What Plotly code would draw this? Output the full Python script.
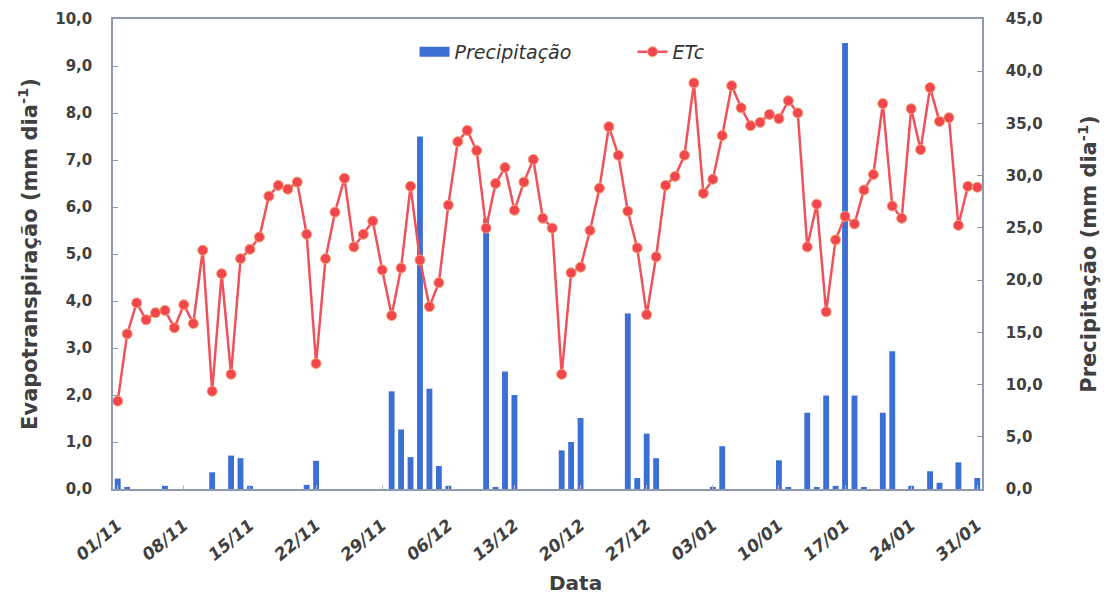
import pandas as pd
import plotly.graph_objects as go

# ---- data ----
dates = pd.date_range("2012-11-01", "2013-01-31", freq="D")

etc = [1.87, 3.30, 3.96, 3.60, 3.75, 3.80, 3.43, 3.92, 3.52, 5.08,
       2.08, 4.58, 2.44, 4.90, 5.10, 5.36, 6.23, 6.46, 6.38, 6.53,
       5.42, 2.67, 4.90, 5.89, 6.61, 5.15, 5.42, 5.70, 4.66, 3.69,
       4.70, 6.44, 4.87, 3.88, 4.39, 6.04, 7.39, 7.63, 7.20, 5.55,
       6.50, 6.84, 5.93, 6.53, 7.01, 5.76, 5.55, 2.44, 4.60, 4.72,
       5.50, 6.40, 7.71, 7.10, 5.91, 5.13, 3.71, 4.94, 6.46, 6.65,
       7.10, 8.64, 6.29, 6.59, 7.52, 8.58, 8.11, 7.73, 7.80, 7.97,
       7.88, 8.26, 8.00, 5.15, 6.06, 3.77, 5.30, 5.80, 5.64, 6.36,
       6.69, 8.20, 6.02, 5.76, 8.09, 7.22, 8.54, 7.82, 7.90, 5.61,
       6.44, 6.42]

precip = [1.0, 0.2, 0.0, 0.0, 0.0, 0.3, 0.0, 0.0, 0.0, 0.0,
          1.6, 0.0, 3.2, 2.95, 0.3, 0.0, 0.0, 0.0, 0.0, 0.0,
          0.4, 2.7, 0.0, 0.0, 0.0, 0.0, 0.0, 0.0, 0.0, 9.35,
          5.7, 3.05, 33.75, 9.6, 2.2, 0.3, 0.0, 0.0, 0.0, 25.9,
          0.2, 11.25, 9.0, 0.0, 0.0, 0.0, 0.0, 3.7, 4.5, 6.8,
          0.0, 0.0, 0.0, 0.0, 16.8, 1.05, 5.3, 2.95, 0.0, 0.0,
          0.0, 0.0, 0.0, 0.2, 4.1, 0.0, 0.0, 0.0, 0.0, 0.0,
          2.75, 0.1, 0.0, 7.3, 0.1, 8.95, 0.3, 42.7, 8.95, 0.1,
          0.0, 7.3, 13.2, 0.0, 0.3, 0.0, 1.7, 0.6, 0.0, 2.55,
          0.0, 1.05]

tick_dates = dates[::7]
tick_text = [d.strftime("%d/%m") for d in tick_dates]
left_ticks = list(range(0, 11))
right_ticks = list(range(0, 46, 5))

FONT = "DejaVu Sans"
TXT = "#404040"
AX = "#9099B0"
BLUE = "#3B6FD4"

fig = go.Figure()
fig.add_trace(go.Bar(
    x=dates, y=precip, name="Precipitação", yaxis="y", showlegend=False,
    marker=dict(color=BLUE, line=dict(width=0)),
))
# legend-only entry for the bars (wide rectangle symbol as in the original)
fig.add_trace(go.Scatter(
    x=[None], y=[None], name="Precipitação", yaxis="y", mode="lines",
    line=dict(color=BLUE, width=10),
))
fig.add_trace(go.Scatter(
    x=dates, y=etc, name="ETc", yaxis="y2", mode="lines+markers",
    line=dict(color="#F0525C", width=2.5),
    marker=dict(color="#F2464F", size=10, line=dict(color="#F8A070", width=1)),
))

fig.update_layout(
    width=1111, height=608,
    margin=dict(l=105, r=137, t=11, b=127, autoexpand=False),
    paper_bgcolor="white", plot_bgcolor="white",
    separators=",.",
    bargap=0.38,
    font=dict(family=FONT, color=TXT),
    showlegend=True,
    legend=dict(orientation="h", x=0.347, xanchor="left", y=0.93, yanchor="middle",
                font=dict(family=FONT, size=19, color="#333333", style="italic"),
                traceorder="normal", bgcolor="rgba(0,0,0,0)",
                entrywidth=173, entrywidthmode="pixels"),
    xaxis=dict(
        automargin=False,
        range=[dates[0] - pd.Timedelta(hours=12), dates[-1] + pd.Timedelta(hours=12)],
        tickvals=tick_dates, ticktext=tick_text, tickangle=-40,
        tickfont=dict(family=FONT, size=17, color=TXT, weight="bold", style="italic"),
        showgrid=False, showline=True, linecolor=AX, linewidth=1.5, mirror=True,
        ticks="inside", ticklen=4, tickcolor="#BBBBBB", ticklabelstandoff=18,
    ),
    yaxis=dict(
        automargin=False,
        side="right", range=[0, 45], tickvals=right_ticks, tickformat=".1f",
        tickfont=dict(family=FONT, size=15, color=TXT, weight="bold"),
        showgrid=False, showline=True, linecolor=AX, linewidth=1.5,
        ticks="inside", ticklen=5, tickcolor=AX, ticklabelstandoff=19, zeroline=False,
        title=dict(text="Precipitação (mm dia<sup>-1</sup>)",
                   font=dict(family=FONT, size=21, color=TXT, weight="bold"), standoff=40),
    ),
    yaxis2=dict(
        automargin=False,
        side="left", overlaying="y", range=[0, 10], tickvals=left_ticks, tickformat=".1f",
        tickfont=dict(family=FONT, size=15, color=TXT, weight="bold"),
        showgrid=False, showline=True, linecolor=AX, linewidth=1.5,
        ticks="inside", ticklen=5, tickcolor=AX, ticklabelstandoff=16, zeroline=False,
        title=dict(text="Evapotranspiração (mm dia<sup>-1</sup>)",
                   font=dict(family=FONT, size=21, color=TXT, weight="bold"), standoff=12),
    ),
    annotations=[dict(text="Data", xref="paper", yref="paper", x=0.532, y=-0.2,
                      xanchor="center", yanchor="middle", showarrow=False,
                      font=dict(family=FONT, size=20, color=TXT, weight="bold"))],
)

fig.write_html("out.html")
